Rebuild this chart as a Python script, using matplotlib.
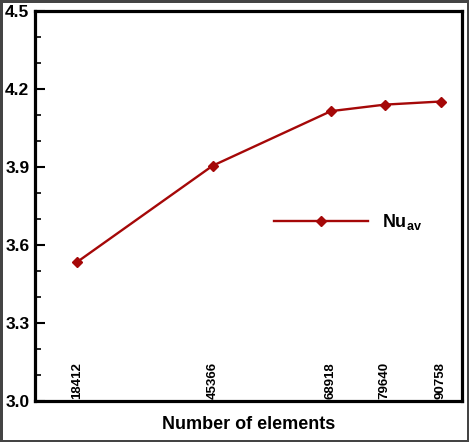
import matplotlib
matplotlib.use("Agg")
import matplotlib.pyplot as plt
from matplotlib.ticker import MultipleLocator

elements = [18412, 45366, 68918, 79640, 90758]
nu_av = [3.535, 3.905, 4.115, 4.140, 4.152]
tick_labels = ["18412", "45366", "68918", "79640", "90758"]
y_ticks = [3.0, 3.3, 3.6, 3.9, 4.2, 4.5]

plt.rcParams['font.family'] = ['Liberation Sans', 'DejaVu Sans']
plt.rcParams['mathtext.fontset'] = 'custom'
plt.rcParams['mathtext.rm'] = 'Liberation Sans:bold'
plt.rcParams['mathtext.bf'] = 'Liberation Sans:bold'

fig = plt.figure(figsize=(4.69, 4.42), dpi=100)
fig.patch.set_facecolor('white')
fig.patch.set_edgecolor('#444444')
fig.patch.set_linewidth(2.5)
ax = fig.add_axes([0.0746, 0.0928, 0.9104, 0.8822])

color = '#A50808'
ax.plot(elements, nu_av, color=color, lw=1.7, marker='D', markersize=5,
        label=r'$\mathbf{Nu}_{\mathbf{av}}$')

ax.set_xlim(10000, 95000)
ax.set_ylim(3.0, 4.5)
ax.set_yticks(y_ticks)
ax.set_yticklabels([f"{v:.1f}" for v in y_ticks], fontsize=12.5, fontweight='bold')
ax.yaxis.set_minor_locator(MultipleLocator(0.1))
ax.tick_params(axis='y', which='major', direction='in', length=7, width=1.5, pad=4, right=False)
ax.tick_params(axis='y', which='minor', direction='in', length=4.5, width=1.2, right=False)
ax.set_xticks([])
for xv, lab in zip(elements, tick_labels):
    ax.text(xv, 0.004, lab, transform=ax.get_xaxis_transform(), rotation=90,
            ha='center', va='bottom', fontsize=9.5, fontweight='bold')

for s in ax.spines.values():
    s.set_linewidth(2.3)
    s.set_color('black')

ax.set_xlabel('Number of elements', fontsize=13, fontweight='bold', labelpad=11)

ax.legend(loc='center left', bbox_to_anchor=(0.56, 0.459), frameon=False,
          fontsize=13, handlelength=5.2, handletextpad=0.8, borderpad=0, borderaxespad=0)

fig.savefig('out.png', dpi=100, edgecolor=fig.get_edgecolor())
